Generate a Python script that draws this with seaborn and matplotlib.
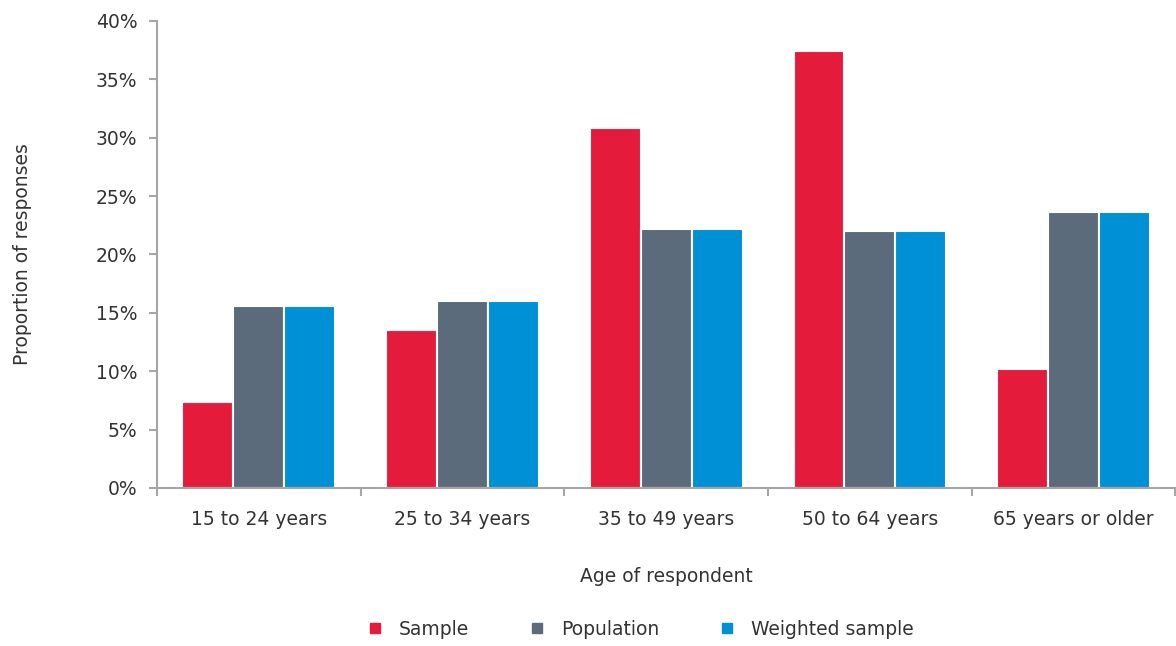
import numpy as np
import pandas as pd
import seaborn as sns
import matplotlib.pyplot as plt
from matplotlib.ticker import PercentFormatter, FixedLocator
from matplotlib.lines import Line2D

sns.set_style('white')
plt.rcParams['font.family'] = ['DejaVu Sans']

age_groups = ['15 to 24 years', '25 to 34 years', '35 to 49 years', '50 to 64 years', '65 years or older']
sample = [7.4, 13.5, 30.8, 37.4, 10.2]
population = [15.6, 16.0, 22.2, 22.0, 23.6]
weighted = [15.6, 16.0, 22.2, 22.0, 23.6]

series = ['Sample', 'Population', 'Weighted sample']
colors = ['#E51B3C', '#5B6B7C', '#0090D5']

df = pd.DataFrame({
    'age': age_groups * 3,
    'value': sample + population + weighted,
    'series': np.repeat(series, len(age_groups)),
})

text_color = '#333333'
spine_color = '#A6A6A6'

fig = plt.figure(figsize=(11.76, 6.46), dpi=100)
ax = fig.add_axes([0.1335, 0.2446, 0.866, 0.7229])

sns.barplot(data=df, x='age', y='value', hue='series', palette=colors, saturation=1,
            width=0.75, edgecolor='white', linewidth=1.5, ax=ax, legend=False)

ax.set_ylim(0, 40)
ax.set_xlim(-0.5, len(age_groups) - 0.5)
ax.yaxis.set_major_locator(FixedLocator(range(0, 41, 5)))
ax.yaxis.set_major_formatter(PercentFormatter(decimals=0))

ax.tick_params(axis='x', which='major', bottom=False, pad=12, labelsize=13.5, labelcolor=text_color)
ax.set_xticks(np.arange(-0.5, len(age_groups)), minor=True)
ax.tick_params(axis='x', which='minor', bottom=True, length=6, color=spine_color, width=1.5, direction='out')
ax.tick_params(axis='y', left=True, length=6, color=spine_color, width=1.5, labelsize=13.5,
               labelcolor=text_color, pad=8)

for s in ['top', 'right']:
    ax.spines[s].set_visible(False)
for s in ['left', 'bottom']:
    ax.spines[s].set_color(spine_color)
    ax.spines[s].set_linewidth(1.5)

ax.set_xlabel('Age of respondent', fontsize=13.5, color=text_color, labelpad=28)
ax.set_ylabel('Proportion of responses', fontsize=13.5, color=text_color, labelpad=46)

handles = [Line2D([0], [0], marker='s', linestyle='', markersize=7, color=c) for c in colors]
fig.legend(handles, series, loc='center', bbox_to_anchor=(0.54, 0.026), ncol=3,
           frameon=False, fontsize=13.5, labelcolor=text_color, handletextpad=0.3,
           columnspacing=2.6)

fig.savefig('out.png', dpi=100)
